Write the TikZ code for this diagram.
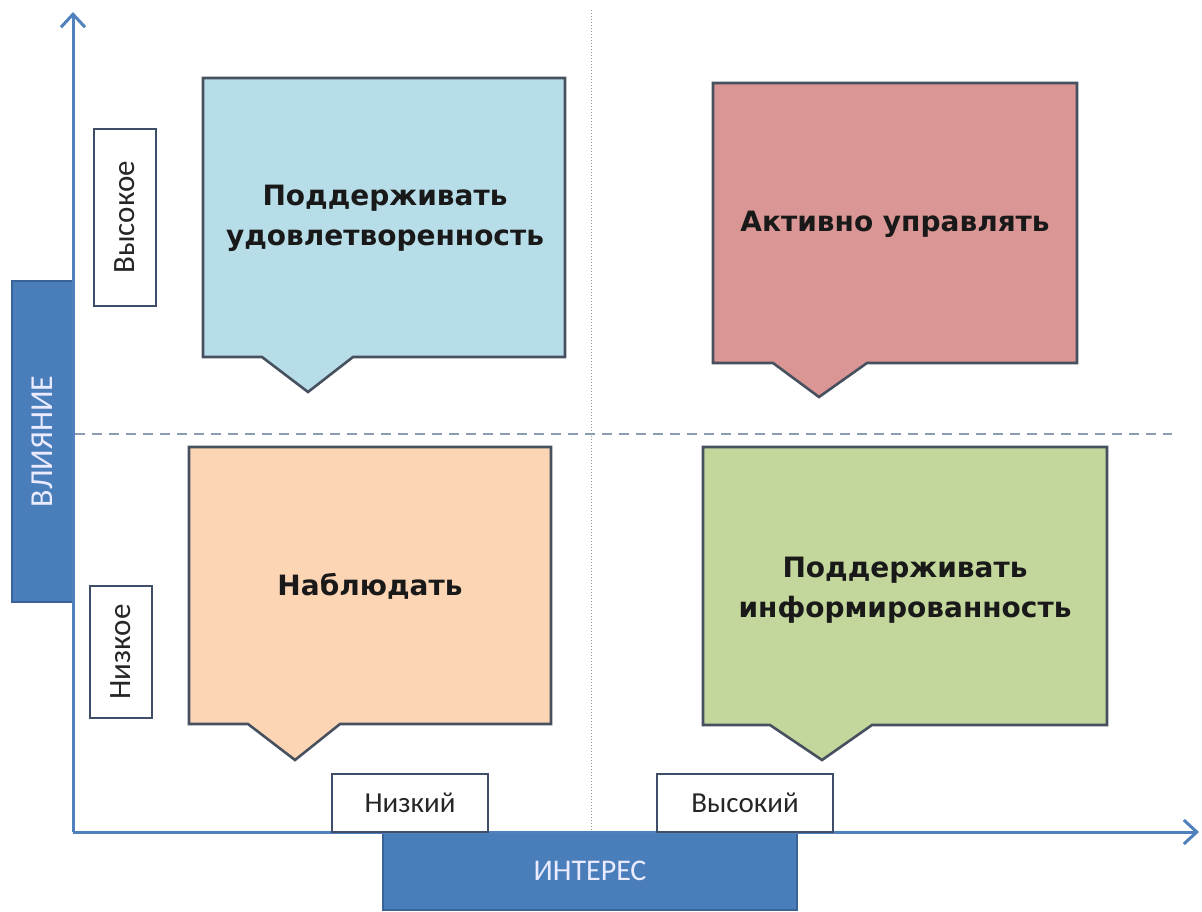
\documentclass[tikz,border=0pt]{standalone}
\usepackage{fontspec}
\setmainfont{Carlito}
\newfontfamily\headfont{DejaVu Sans}
\usetikzlibrary{arrows.meta}
\definecolor{axisblue}{HTML}{4F81BD}
\definecolor{boxblue}{HTML}{4A7EBB}
\definecolor{boxedge}{HTML}{3A6499}
\definecolor{lblue}{HTML}{B7DDE8}
\definecolor{lred}{HTML}{D99694}
\definecolor{lorange}{HTML}{FCD5B5}
\definecolor{lgreen}{HTML}{C3D69B}
\definecolor{calledge}{HTML}{46505E}
\definecolor{lbledge}{HTML}{3E4E68}
\definecolor{dashc}{HTML}{8C9DB3}
\begin{document}
\begin{tikzpicture}[x=1pt,y=-1pt,
  callout/.style={draw=calledge,line width=2.6pt,line join=miter},
  calltext/.style={font=\headfont\bfseries\fontsize{28}{40}\selectfont,text=black!90,align=center},
  lblbox/.style={draw=lbledge,fill=white,line width=2.6pt,inner sep=0pt,font=\fontsize{29}{32}\selectfont,text=black!85},
  axisbox/.style={draw=boxedge,fill=boxblue,line width=1.5pt,inner sep=0pt,font=\fontsize{30}{32}\selectfont,text=white!92!blue},
  axisline/.style={draw=axisblue,line width=3pt,-{Straight Barb[length=13pt,width=24pt,line width=3pt]}}
]
\useasboundingbox (0,0) rectangle (1202,911);
% guide lines
\coordinate (vtop) at (591,10);
\coordinate (vbot) at (591,832);
\coordinate (hl) at (75,434);
\coordinate (hr) at (1172,434);
\draw[gray!80,line width=1pt,dotted] (vtop) -- (vbot);
\draw[dashc,line width=2.6pt,dash pattern=on 10pt off 7pt] (hl) -- (hr);
% callouts
\draw[callout,fill=lblue] (203,78) -- (565,78) -- (565,357) -- (353,357) -- (308,392) -- (262,357) -- (203,357) -- cycle;
\node[calltext] (tl) at (385,218) {Поддерживать\\удовлетворенность};
\draw[callout,fill=lred] (713,83) -- (1077,83) -- (1077,363) -- (867,363) -- (819,397) -- (773,363) -- (713,363) -- cycle;
\node[calltext] (tr) at (895,224) {Активно управлять};
\draw[callout,fill=lorange] (189,447) -- (551,447) -- (551,724) -- (340,724) -- (295,760) -- (248,724) -- (189,724) -- cycle;
\node[calltext] (bl) at (370,586) {Наблюдать};
\draw[callout,fill=lgreen] (703,447) -- (1107,447) -- (1107,725) -- (872,725) -- (822,760) -- (770,725) -- (703,725) -- cycle;
\node[calltext] (br) at (905,590) {Поддерживать\\информированность};
% axis boxes
\node[axisbox,rotate=90,font=\fontsize{32}{34}\selectfont,minimum width=321pt,minimum height=61pt] (infl) at (42.5,441.5) {ВЛИЯНИЕ};
\node[axisbox,minimum width=414pt,minimum height=78pt] (intr) at (590,871) {ИНТЕРЕС};
% axes
\coordinate (O) at (73,832);
\coordinate (ytip) at (73,12);
\coordinate (xtip) at (1199,832);
\draw[axisline] (O) -- (ytip);
\draw[axisline] (O) -- (xtip);
% label boxes
\node[lblbox,rotate=90,font=\fontsize{31}{33}\selectfont,minimum width=177pt,minimum height=62pt] (hi) at (125,217.5) {Высокое};
\node[lblbox,rotate=90,font=\fontsize{31}{33}\selectfont,minimum width=132pt,minimum height=62pt] (lo) at (121,652) {Низкое};
\node[lblbox,minimum width=156pt,minimum height=58pt] (low) at (410,803) {Низкий};
\node[lblbox,minimum width=176pt,minimum height=58pt] (high) at (745,803) {Высокий};
\end{tikzpicture}
\end{document}
